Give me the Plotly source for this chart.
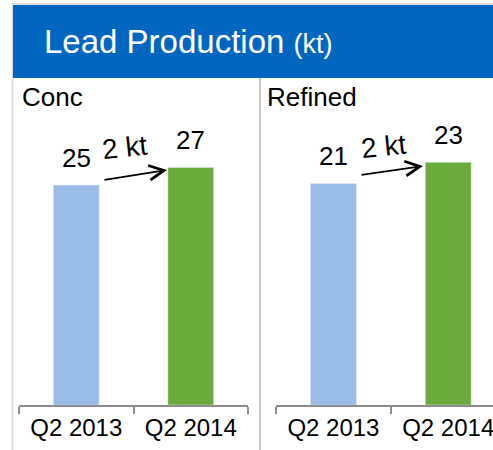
import plotly.graph_objects as go

W, H = 493, 450

title_main = "Lead Production"
title_unit = "(kt)"
panels = ["Conc", "Refined"]
categories = ["Q2 2013", "Q2 2014"]
conc_values = [25, 27]
refined_values = [21, 23]
change_labels = ["2 kt", "2 kt"]
bar_colors = ["#99BDE8", "#6AAB3C"]

FONT = "Liberation Sans, Arial, sans-serif"

def px(x):
    return x / W

def py(y):
    return 1 - y / H

fig = go.Figure()

fig.add_trace(go.Bar(x=categories, y=conc_values, marker_color=bar_colors,
                     width=0.4, xaxis="x", yaxis="y", showlegend=False, hoverinfo="skip"))
fig.add_trace(go.Bar(x=categories, y=refined_values, marker_color=bar_colors,
                     width=0.4, xaxis="x2", yaxis="y2", showlegend=False, hoverinfo="skip"))

ydom = [py(405), py(78)]
axis_common = dict(
    type="category", showgrid=False, zeroline=False, showline=True,
    linecolor="#8C8C8C", linewidth=1.5, ticks="outside", ticklen=7,
    tickcolor="#8C8C8C", tickwidth=1.5, tickson="boundaries",
    tickfont=dict(family=FONT, size=24, color="#000000"), fixedrange=True,
)
fig.update_layout(
    width=W, height=H, margin=dict(l=0, r=0, t=0, b=0),
    paper_bgcolor="white", plot_bgcolor="white",
    xaxis=dict(domain=[px(19), px(248)], range=[-0.5, 1.5], anchor="y", **axis_common),
    xaxis2=dict(domain=[px(276), 1], range=[-0.5, 1.39], anchor="y2", **axis_common),
    yaxis=dict(domain=ydom, range=[0, 327 / 8.8], visible=False, anchor="x", fixedrange=True),
    yaxis2=dict(domain=ydom, range=[0, 327 / 10.55], visible=False, anchor="x2", fixedrange=True),
    bargap=0.6,
)

shapes = [
    dict(type="line", xref="paper", yref="paper", x0=px(12.5), x1=px(12.5), y0=py(4), y1=0,
         line=dict(color="#D9D9D9", width=1.5)),
    dict(type="line", xref="paper", yref="paper", x0=px(12.5), x1=1, y0=py(4), y1=py(4),
         line=dict(color="#D9D9D9", width=1.5)),
    dict(type="rect", xref="paper", yref="paper", x0=px(13), x1=1, y0=py(78), y1=py(5),
         fillcolor="#0066C0", line=dict(width=0), layer="above"),
    dict(type="line", xref="paper", yref="paper", x0=px(260), x1=px(260), y0=py(78), y1=0,
         line=dict(color="#C8C8C8", width=2)),
]
fig.update_layout(shapes=shapes)

ann = []
ann.append(dict(xref="paper", yref="paper", x=px(42), y=py(41), xanchor="left", yanchor="middle",
                showarrow=False,
                text=f"{title_main} <span style='font-size:27px'>{title_unit}</span>",
                font=dict(family=FONT, size=33, color="white")))
ann.append(dict(xref="paper", yref="paper", x=px(20), y=py(97), xanchor="left", yanchor="middle",
                showarrow=False, text=panels[0], font=dict(family=FONT, size=26, color="black")))
ann.append(dict(xref="paper", yref="paper", x=px(265), y=py(97), xanchor="left", yanchor="middle",
                showarrow=False, text=panels[1], font=dict(family=FONT, size=26, color="black")))

for xa, ya, vals in (("x", "y", conc_values), ("x2", "y2", refined_values)):
    for c, v in zip(categories, vals):
        ann.append(dict(xref=xa, yref=ya, x=c, y=v, xanchor="center", yanchor="bottom", yshift=10,
                        showarrow=False, text=str(v),
                        font=dict(family=FONT, size=26, color="black")))

arrows = [((103, 180), (167, 170), (124, 147)), ((360, 175), (423, 166), (383, 146))]
for lab, (tail, head, txt) in zip(change_labels, arrows):
    ann.append(dict(xref="paper", yref="paper", x=px(head[0]), y=py(head[1]),
                    axref="pixel", ayref="pixel", ax=tail[0] - head[0], ay=tail[1] - head[1],
                    showarrow=True, arrowhead=5, arrowsize=1.6, arrowwidth=1.8,
                    arrowcolor="black", text=""))
    ann.append(dict(xref="paper", yref="paper", x=px(txt[0]), y=py(txt[1]), showarrow=False,
                    xanchor="center", yanchor="middle",
                    text=lab, textangle=-6, font=dict(family=FONT, size=28, color="black")))

fig.update_layout(annotations=ann)
fig.write_html("out.html", config={"displayModeBar": False},
               post_script="document.body.style.margin='0';")
